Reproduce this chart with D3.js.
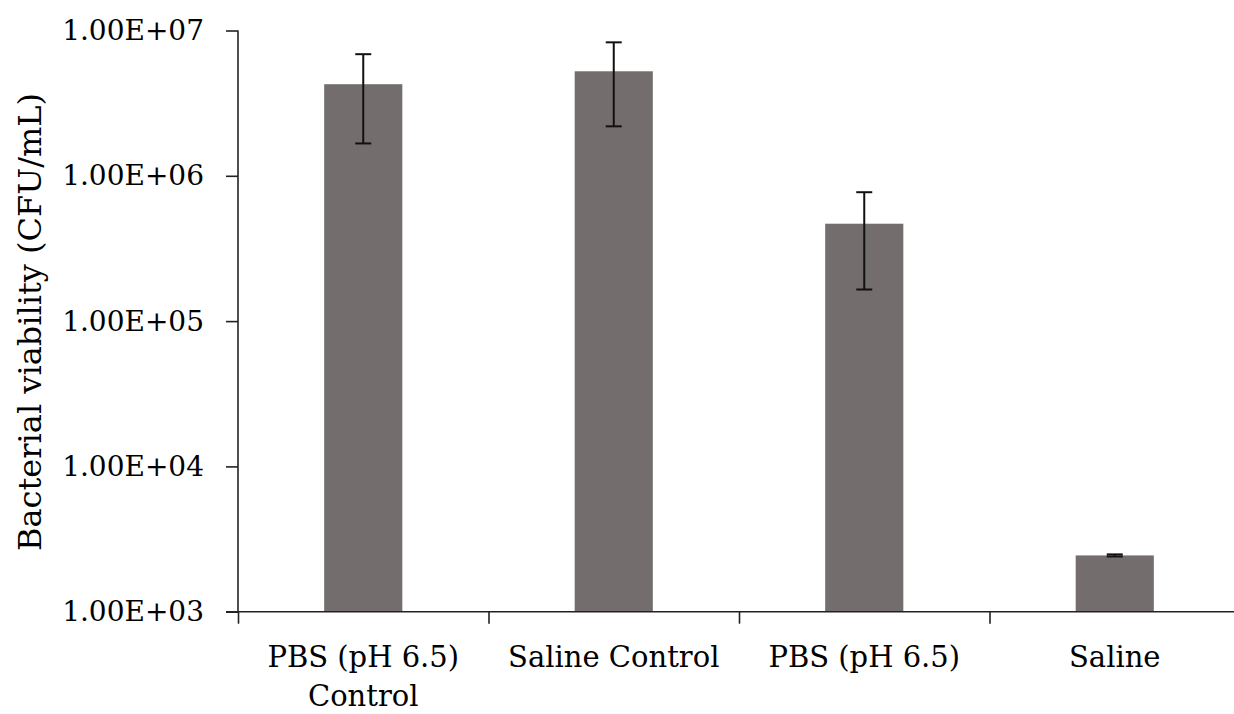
<!DOCTYPE html>
<html><head><meta charset="utf-8">
<script src="https://cdn.jsdelivr.net/npm/d3@7/dist/d3.min.js"></script>
<style>body{margin:0;background:#fff}svg{display:block}svg text{font-family:"DejaVu Serif",serif;fill:#000}</style>
</head><body><svg id="c" width="1234" height="714"></svg>
<script>
const categories = [["PBS (pH 6.5)","Control"],["Saline Control"],["PBS (pH 6.5)"],["Saline"]];
const means = [4.27e6, 5.24e6, 4.68e5, 2.44e3];
const sds = [2.6e6, 3.05e6, 3.03e5, 0.04e3];
const yTicks = [1e3, 1e4, 1e5, 1e6, 1e7];
const yTickLabels = ["1.00E+03","1.00E+04","1.00E+05","1.00E+06","1.00E+07"];
const yTitle = "Bacterial viability (CFU/mL)";

const svg = d3.select("#c");
const mLeft = 238, mRight = 1240, mTop = 30.5, mBottom = 611.7;
const x = d3.scaleBand().domain(d3.range(categories.length)).range([mLeft, mRight]).paddingInner(0).paddingOuter(0);
const y = d3.scaleLog().domain([1e3, 1e7]).range([mBottom, mTop]);
const bw = x.bandwidth() * 0.312;

// bars
svg.selectAll("rect.bar").data(means).enter().append("rect")
  .attr("x", (d,i) => x(i) + x.bandwidth()/2 - bw/2)
  .attr("y", d => y(d))
  .attr("width", bw)
  .attr("height", d => mBottom - y(d))
  .attr("fill", "#736e6d");

// error bars
const eb = svg.append("g").attr("stroke", "#111").attr("stroke-width", 2);
means.forEach((m,i) => {
  const cx = x(i) + x.bandwidth()/2;
  const hi = y(m + sds[i]), lo = y(Math.max(m - sds[i], 1e3));
  eb.append("line").attr("x1", cx).attr("x2", cx).attr("y1", hi).attr("y2", lo);
  eb.append("line").attr("x1", cx-8).attr("x2", cx+8).attr("y1", hi).attr("y2", hi);
  eb.append("line").attr("x1", cx-8).attr("x2", cx+8).attr("y1", lo).attr("y2", lo);
});

// y axis
const yAxis = d3.axisLeft(y).tickValues(yTicks).tickFormat((d,i) => yTickLabels[i]).tickSize(12).tickPadding(22);
const gy = svg.append("g").attr("transform", `translate(${mLeft},0)`).call(yAxis).attr("font-family", null);
gy.select(".domain").attr("stroke", "#222").attr("stroke-width", 1.6).attr("d", `M0,${mTop}V${mBottom}`);
gy.selectAll(".tick line").attr("stroke", "#222").attr("stroke-width", 1.6);
gy.selectAll(".tick text").style("font-size", "28px").attr("fill", "#000");

// x axis
const xAxis = d3.axisBottom(d3.scaleLinear().domain([0, categories.length]).range([mLeft, mRight]))
  .tickValues(d3.range(categories.length + 1)).tickFormat("").tickSize(12);
const gx = svg.append("g").attr("transform", `translate(0,${mBottom})`).call(xAxis);
gx.select(".domain").attr("stroke", "#222").attr("stroke-width", 1.6).attr("d", `M${mLeft-12},0H${mRight}`);
gx.selectAll(".tick line").attr("stroke", "#222").attr("stroke-width", 1.6);

// category labels
categories.forEach((lines,i) => {
  const t = svg.append("text").attr("text-anchor", "middle").style("font-size", "29px")
    .attr("x", x(i) + x.bandwidth()/2).attr("y", 667);
  lines.forEach((l,j) => t.append("tspan").attr("x", x(i) + x.bandwidth()/2).attr("dy", j ? 39 : 0).text(l));
});

// y title
svg.append("text").attr("text-anchor", "middle").style("font-size", "32px")
  .attr("transform", `translate(41,322) rotate(-90)`).text(yTitle);
</script></body></html>
